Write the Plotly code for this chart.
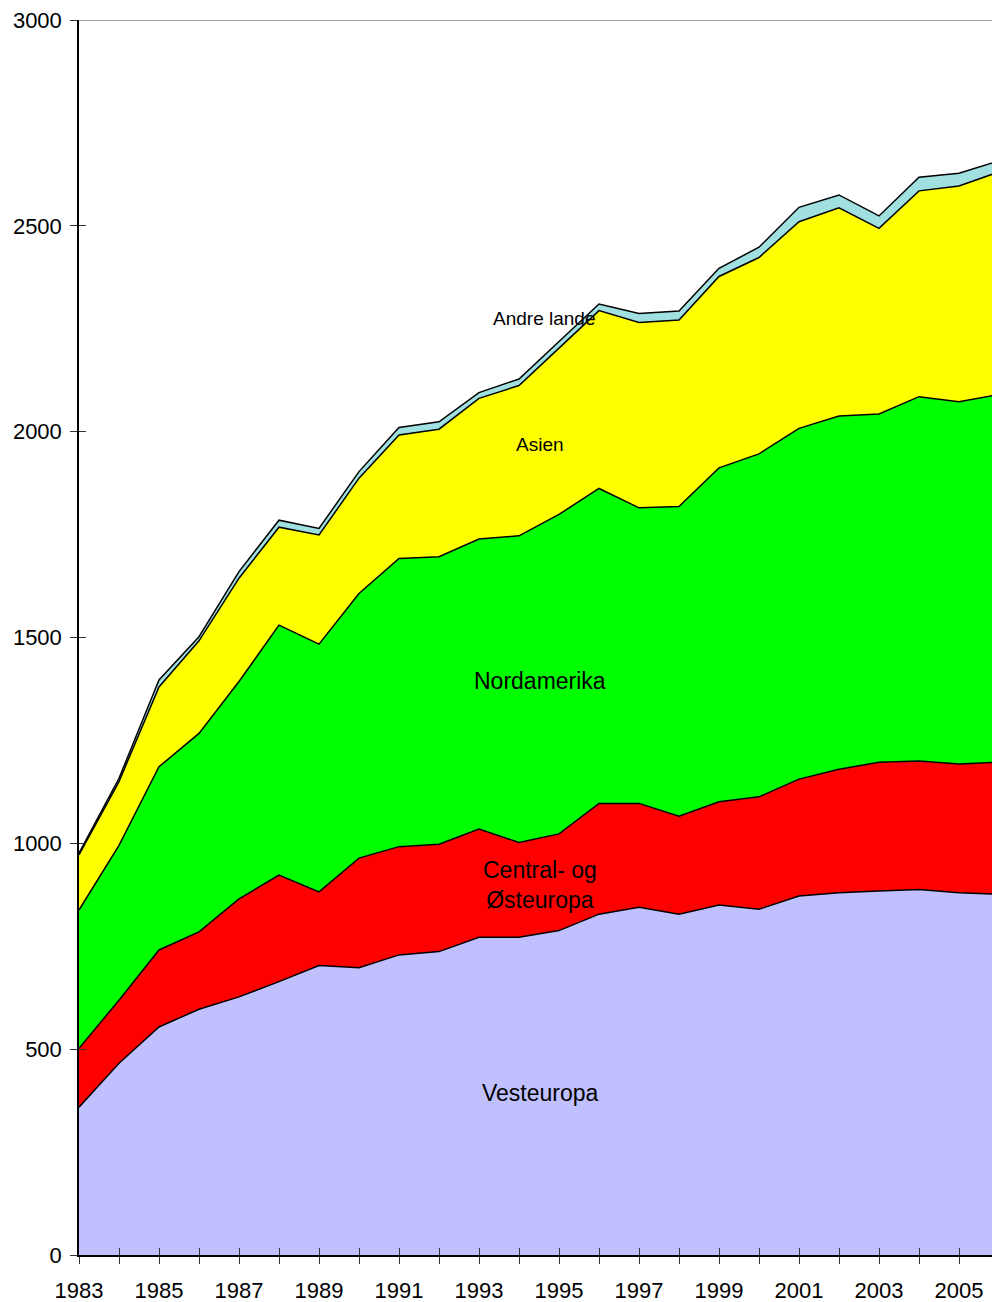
import plotly.graph_objects as go

years = list(range(1983, 2007))
vesteuropa = [359, 466, 554, 597, 627, 664, 703, 698, 729, 737, 772, 772, 788, 828, 845, 828, 850, 840, 872, 880, 884, 888, 880, 876]
central_ost = [143, 153, 187, 188, 238, 259, 179, 266, 263, 261, 263, 230, 235, 269, 252, 238, 251, 273, 284, 300, 313, 312, 313, 321]
nordamerika = [336, 376, 445, 482, 528, 607, 602, 643, 700, 698, 704, 745, 776, 765, 718, 752, 811, 833, 852, 858, 846, 885, 880, 893]
asien = [134, 155, 194, 225, 251, 238, 265, 280, 300, 310, 342, 365, 404, 432, 450, 453, 465, 477, 502, 506, 451, 500, 524, 541]
andre = [4, 8, 17, 10, 16, 17, 16, 16, 18, 18, 14, 16, 16, 16, 22, 22, 20, 25, 35, 31, 30, 33, 31, 27]

series = [
    ("Vesteuropa", vesteuropa, "#C0C0FF"),
    ("Central- og Østeuropa", central_ost, "#FF0000"),
    ("Nordamerika", nordamerika, "#00FF00"),
    ("Asien", asien, "#FFFF00"),
    ("Andre lande", andre, "#A0E0E0"),
]

tick_years = list(range(1983, 2007, 2))
y_ticks = [0, 500, 1000, 1500, 2000, 2500, 3000]

fig = go.Figure()
for name, vals, col in series:
    fig.add_trace(go.Scatter(
        x=years, y=vals, name=name, mode="lines", stackgroup="one",
        line=dict(color="black", width=1.5), fillcolor=col,
        hoverinfo="x+y+name",
    ))

# invisible trace on overlay axes (for crossing tick marks)
fig.add_trace(go.Scatter(x=[years[0]], y=[0], xaxis="x2", yaxis="y2",
                         mode="markers", marker=dict(opacity=0), showlegend=False,
                         hoverinfo="skip"))

XR = [1983, 2005.825]
YR = [0, 3000]
font = dict(family="Liberation Sans, Arial, sans-serif", size=22, color="black")

fig.update_layout(
    width=992, height=1302,
    margin=dict(l=79, r=0, t=20, b=47),
    paper_bgcolor="white", plot_bgcolor="white",
    showlegend=False,
    font=font,
    xaxis=dict(range=XR, tickmode="array", tickvals=years,
               ticktext=[str(y) if y in tick_years else "" for y in years],
               ticks="outside", ticklen=7, tickwidth=1, tickcolor="#333",
               showgrid=False, zeroline=False, showline=True, linecolor="black",
               linewidth=1.5, tickfont=font, ticklabelstandoff=8),
    yaxis=dict(range=YR, tickmode="array", tickvals=y_ticks,
               ticks="outside", ticklen=7, tickwidth=1, tickcolor="#333",
               showgrid=False, zeroline=False, showline=True, linecolor="black",
               linewidth=1.5, tickfont=font, ticklabelstandoff=4),
    xaxis2=dict(range=XR, overlaying="x", tickmode="array", tickvals=years,
                ticks="inside", ticklen=7, tickwidth=1, tickcolor="#333",
                showticklabels=False, showgrid=False, zeroline=False, showline=False,
                anchor="y2", side="bottom"),
    yaxis2=dict(range=YR, overlaying="y", tickmode="array", tickvals=y_ticks,
                ticks="inside", ticklen=7, tickwidth=1, tickcolor="#333",
                showticklabels=False, showgrid=False, zeroline=False, showline=False,
                anchor="x2", side="left"),
)

# top border of plot area
fig.add_shape(type="line", xref="paper", yref="y", x0=0, x1=1, y0=3000, y1=3000,
              line=dict(color="#888", width=1.5))

big = dict(family="Liberation Sans, Arial, sans-serif", size=23, color="black")
small = dict(family="Liberation Sans, Arial, sans-serif", size=19, color="black")
labels = [
    ("Vesteuropa", 1994.525, 394, big),
    ("Central- og<br>Østeuropa", 1994.525, 899, big),
    ("Nordamerika", 1994.525, 1394, big),
    ("Asien", 1994.525, 1968, small),
    ("Andre lande", 1994.625, 2276, small),
]
for txt, x, y, f in labels:
    fig.add_annotation(x=x, y=y, text=txt, showarrow=False, font=f,
                       xanchor="center", yanchor="middle")

fig.write_html("out.html", config={"displayModeBar": False},
               post_script="document.body.style.margin='0';document.body.style.overflow='hidden';")
